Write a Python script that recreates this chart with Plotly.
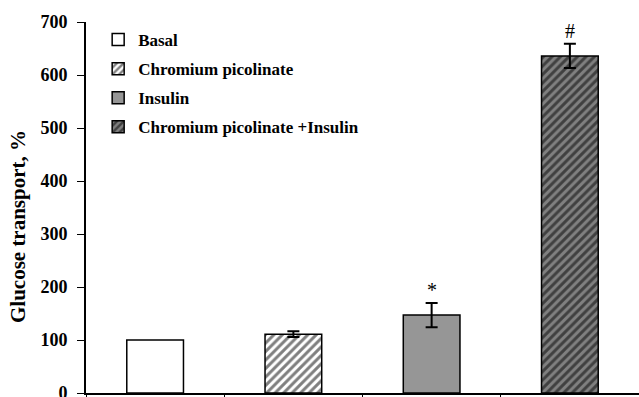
import plotly.graph_objects as go

categories = ["Basal", "Chromium picolinate", "Insulin", "Chromium picolinate +Insulin"]
values = [100, 111, 147, 636]
errors = [0, 5.5, 23, 23]
markers = ["", "", "*", "#"]
y_ticks = [0, 100, 200, 300, 400, 500, 600, 700]

fills = [
    dict(color="white", pattern=None),
    dict(color="white", pattern=dict(shape="/", fgcolor="black", bgcolor="white", size=6, solidity=0.5)),
    dict(color="#969696", pattern=None),
    dict(color="#808080", pattern=dict(shape="/", fgcolor="black", bgcolor="#808080", size=6, solidity=0.5)),
]

FONT = "Liberation Serif, Times New Roman, serif"

fig = go.Figure()
for i, cat in enumerate(categories):
    marker = dict(color=fills[i]["color"], line=dict(color="black", width=1.5))
    if fills[i]["pattern"]:
        marker["pattern"] = fills[i]["pattern"]
    fig.add_trace(go.Bar(
        x=[cat], y=[values[i]], name=cat, width=0.41,
        marker=marker, legendgroup=str(i),
        error_y=dict(type="data", array=[errors[i]], visible=errors[i] > 0,
                     color="black", thickness=2, width=6),
    ))
    if markers[i]:
        fig.add_annotation(x=cat, y=values[i] + errors[i], text=markers[i],
                           showarrow=False, yanchor="bottom", yshift=0,
                           font=dict(family=FONT, size=20, color="black"))

fig.add_annotation(xref="paper", yref="paper", x=-0.123, y=0.45,
                   xanchor="center", yanchor="middle",
                   text="Glucose transport, %", textangle=-90, showarrow=False,
                   font=dict(family=FONT, size=21, color="black", weight="bold"))

fig.update_layout(
    width=639, height=397,
    margin=dict(l=86, r=0, t=22, b=4, autoexpand=False),
    paper_bgcolor="white", plot_bgcolor="white",
    barmode="overlay",
    showlegend=True,
    legend=dict(x=0.022, y=1.0, xanchor="left", yanchor="top",
                font=dict(family=FONT, size=17, color="black", weight="bold"),
                bgcolor="rgba(0,0,0,0)", tracegroupgap=4, traceorder="grouped"),
    font=dict(family=FONT, color="black"),
)
fig.update_xaxes(showline=True, linecolor="black", linewidth=2, ticks="outside",
                 tickson="boundaries", ticklen=5, tickcolor="black", showticklabels=False,
                 showgrid=False, zeroline=False, automargin=False)
fig.update_yaxes(range=[0, 700], tickvals=y_ticks, showline=True, linecolor="black",
                 linewidth=2, ticks="outside", ticklen=7, tickcolor="black",
                 tickfont=dict(family=FONT, size=18, color="black", weight="bold"),
                 showgrid=False, zeroline=False, ticklabelstandoff=6,
                 ticklabeloverflow="allow", automargin=False)

fig.write_html("out.html")
